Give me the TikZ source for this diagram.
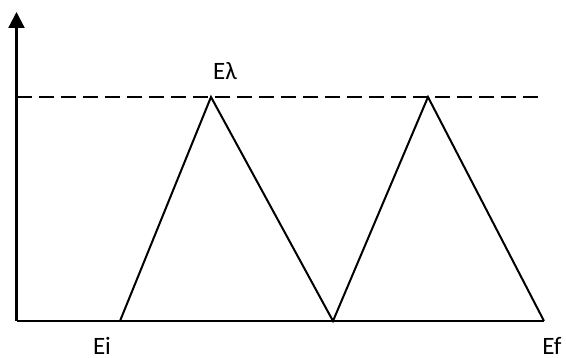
\documentclass[tikz,border=0pt]{standalone}
\usepackage{fontspec}
\setmainfont{Carlito}
\usepackage{tikz}
\usetikzlibrary{arrows.meta, positioning}
\definecolor{mydark}{RGB}{0,0,0}
\tikzset{
  axis/.style={line width=2.3pt, color=mydark},
  axisarrow/.style={-{Triangle[length=16pt, width=16pt]}, line width=2.3pt, color=mydark},
  ramp/.style={line width=2pt, color=mydark},
  level/.style={dash pattern=on 15pt off 7pt, line width=2pt, color=mydark},
  lbl/.style={font=\fontsize{25}{30}\selectfont, inner sep=0pt}
}
\begin{document}
\begin{tikzpicture}[x=1pt, y=-1pt]
  \useasboundingbox (0,0) rectangle (566,358);

  \coordinate (origin) at (16.5,321);
  \coordinate (ytop) at (16.5,12);
  \coordinate (ei) at (120,321);
  \coordinate (peakA) at (211,97);
  \coordinate (valley) at (333,321);
  \coordinate (peakB) at (428,97);
  \coordinate (ef) at (544,321);
  \coordinate (lvlstart) at (16.5,97);
  \coordinate (lvlend) at (540,97);

  % axes
  \draw[axisarrow] (origin) -- (ytop);
  \draw[axis] (origin) -- (ef);

  % lambda level
  \draw[level] (lvlstart) -- (lvlend);

  % triangular sweep
  \draw[ramp] (ei) -- (peakA) -- (valley) -- (peakB) -- (ef);

  \node[lbl] (lamlbl) at (225,71) {Eλ};
  \node[lbl] (eilbl) at (102,346) {Ei};
  \node[lbl] (eflbl) at (552,346) {Ef};
\end{tikzpicture}
\end{document}
